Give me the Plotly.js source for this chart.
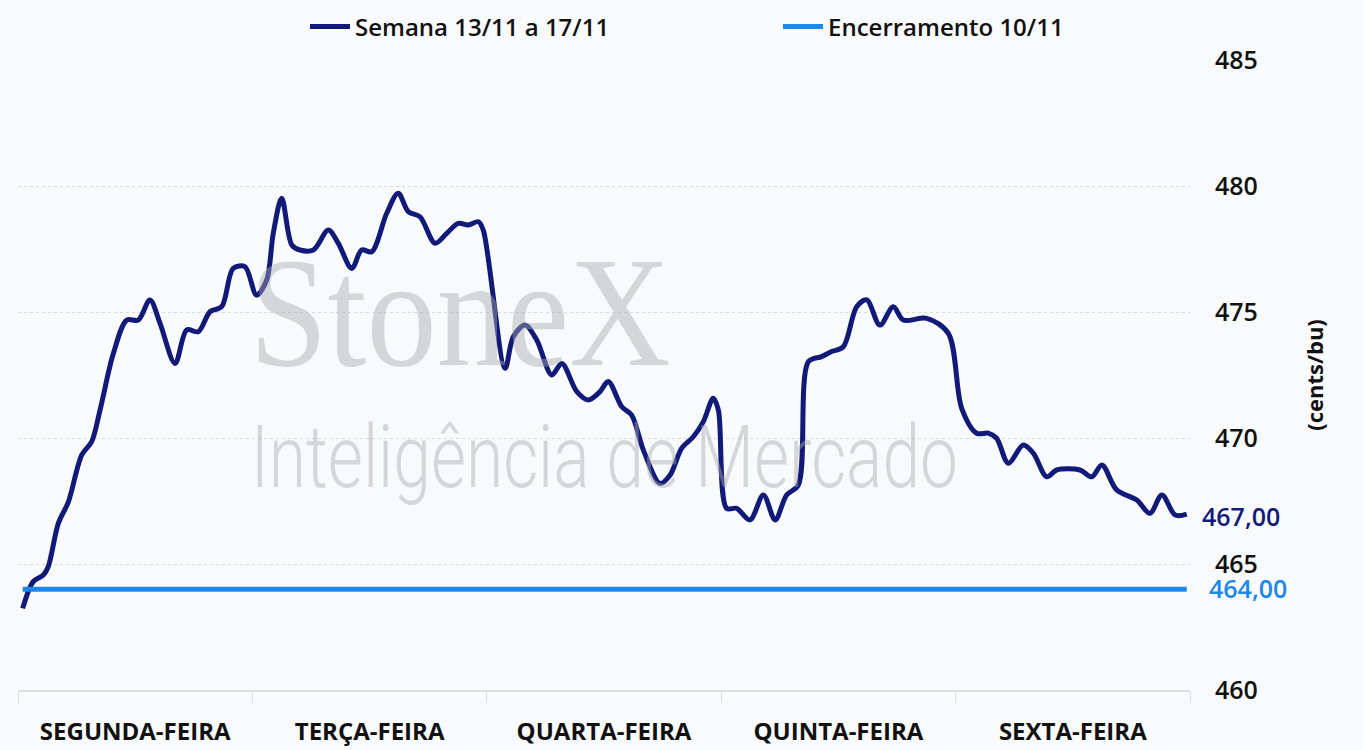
<!DOCTYPE html>
<html>
<head>
<meta charset="utf-8">
<script src="https://cdn.plot.ly/plotly-3.0.1.min.js"></script>
<style>
  html, body { margin: 0; padding: 0; background: #f9fafc; }
  #chart { width: 1363px; height: 750px; }
</style>
</head>
<body>
<div id="chart"></div>
<script>
// Day labels (x axis categories, one per trading day)
const dayLabels = ["SEGUNDA-FEIRA", "TERÇA-FEIRA", "QUARTA-FEIRA", "QUINTA-FEIRA", "SEXTA-FEIRA"];

// Intraday time position (in days from Monday open) and price (cents/bu)
const weekTime = [
  0.020, 0.065, 0.108, 0.129, 0.172, 0.215, 0.272, 0.314, 0.350, 0.407,
  0.464, 0.513, 0.563, 0.606, 0.670, 0.720, 0.769, 0.819, 0.869, 0.918,
  0.968, 1.018, 1.061, 1.089, 1.125, 1.168, 1.203, 1.260, 1.324, 1.366,
  1.424, 1.466, 1.509, 1.573, 1.622, 1.665, 1.715, 1.779, 1.829, 1.878,
  1.921, 1.964, 1.985, 2.078, 2.113, 2.163, 2.213, 2.277, 2.320, 2.384,
  2.433, 2.483, 2.518, 2.576, 2.618, 2.668, 2.739, 2.782, 2.831, 2.881,
  2.924, 2.966, 2.988, 3.023, 3.066, 3.123, 3.180, 3.230, 3.279, 3.329,
  3.372, 3.428, 3.471, 3.521, 3.578, 3.621, 3.677, 3.734, 3.777, 3.877,
  3.969, 4.026, 4.090, 4.139, 4.175, 4.225, 4.289, 4.332, 4.389, 4.431,
  4.531, 4.581, 4.624, 4.687, 4.773, 4.829, 4.880, 4.937, 4.986
];
const weekPrice = [
  463.24, 464.30, 464.56, 464.89, 466.61, 467.47, 469.33, 469.85, 471.11, 473.36,
  474.68, 474.68, 475.48, 474.55, 472.96, 474.29, 474.22, 475.01, 475.21, 476.73,
  476.80, 475.67, 476.27, 478.12, 479.51, 477.66, 477.46, 477.46, 478.25, 477.73,
  476.73, 477.46, 477.39, 478.92, 479.71, 478.98, 478.78, 477.73, 478.12, 478.52,
  478.45, 478.58, 478.25, 472.77, 474.02, 474.48, 473.89, 472.50, 472.96, 471.84,
  471.51, 471.84, 472.24, 471.24, 470.91, 469.52, 468.20, 468.53, 469.59, 470.05,
  470.65, 471.58, 471.11, 467.21, 467.21, 466.75, 467.74, 466.75, 467.74, 468.13,
  473.03, 473.23, 473.43, 473.62, 475.21, 475.48, 474.48, 475.21, 474.68, 474.75,
  474.15, 471.18, 470.19, 470.19, 469.99, 469.00, 469.72, 469.39, 468.46, 468.73,
  468.73, 468.46, 468.93, 467.94, 467.54, 467.01, 467.74, 466.94, 466.98
];

// Previous week close
const prevCloseTime = [0.02, 4.986];
const prevCloseValue = [464.00, 464.00];

const seriesNames = ["Semana 13/11 a 17/11", "Encerramento 10/11"];
const lastValueLabel = "467,00";
const prevCloseLabel = "464,00";
const yTicks = [460, 465, 470, 475, 480, 485];
const yTitle = "(cents/bu)";
const watermarkBrand = "StoneX";
const watermarkSub = "Inteligência de Mercado";

const navy = "#111a78";
const lightBlue = "#1e88ea";
const labelFont = "'Open Sans', 'Noto Sans', sans-serif";
const wmColor = "rgba(168,170,175,0.45)";

const traces = [
  {
    x: weekTime, y: weekPrice, type: "scatter", mode: "lines",
    name: seriesNames[0],
    line: { color: navy, width: 5, shape: "spline", smoothing: 0.9 },
    hoverinfo: "skip"
  },
  {
    x: prevCloseTime, y: prevCloseValue, type: "scatter", mode: "lines",
    name: seriesNames[1],
    line: { color: lightBlue, width: 5 },
    hoverinfo: "skip"
  }
];

const layout = {
  width: 1363, height: 750,
  paper_bgcolor: "#f9fafc", plot_bgcolor: "#f9fafc",
  margin: { l: 18, r: 173, t: 60, b: 60 },
  font: { family: labelFont, color: "#111111" },
  showlegend: true,
  legend: {
    orientation: "h", xref: "container", yref: "container",
    x: 305 / 1363, xanchor: "left", y: 0.994, yanchor: "top",
    font: { size: 24, color: "#111111", family: labelFont, weight: 600 },
    entrywidth: 418, itemwidth: 40, bgcolor: "rgba(0,0,0,0)"
  },
  xaxis: {
    range: [0, 5], showgrid: false, zeroline: false,
    tickmode: "array",
    tickvals: dayLabels.map((_, i) => i + 0.5),
    ticktext: dayLabels,
    ticks: "", ticklabelstandoff: 20,
    tickfont: { size: 24, color: "#111111", family: labelFont, weight: 700 },
    showline: true, linecolor: "#dcdde0", linewidth: 1.5,
    minor: { tick0: 0, dtick: 1, ticks: "outside", ticklen: 11, tickcolor: "#dcdde0", tickwidth: 1, showgrid: false }
  },
  yaxis: {
    side: "right", range: [460, 485], tickmode: "array", tickvals: yTicks,
    showgrid: true, gridcolor: "#d9dadd", gridwidth: 1, griddash: "dot",
    zeroline: false, showline: false, ticks: "",
    ticklabelstandoff: 24,
    tickfont: { size: 25, color: "#111111", family: labelFont, weight: 600 },
    title: { text: yTitle, font: { size: 22, color: "#111111", family: labelFont, weight: 700 }, standoff: 50 }
  },
  annotations: [
    {
      xref: "paper", yref: "paper", x: 0.377, y: 0.60,
      text: watermarkBrand, showarrow: false,
      font: { family: "'Liberation Serif', 'DejaVu Serif', serif", size: 156, color: wmColor },
      xanchor: "center", yanchor: "middle"
    },
    {
      xref: "paper", yref: "paper", x: 0.50, y: 0.37,
      text: watermarkSub, showarrow: false,
      font: { family: "'Roboto', sans-serif", size: 88, color: wmColor, weight: 300 },
      xanchor: "center", yanchor: "middle"
    },
    {
      xref: "paper", yref: "y", x: 1, y: weekPrice[weekPrice.length - 1],
      xanchor: "left", yanchor: "middle", xshift: 10, yshift: -2,
      text: lastValueLabel, showarrow: false,
      font: { size: 25, color: navy, family: labelFont, weight: 600 }
    },
    {
      xref: "paper", yref: "y", x: 1, y: prevCloseValue[0],
      xanchor: "left", yanchor: "middle", xshift: 17, yshift: 1,
      text: prevCloseLabel, showarrow: false,
      font: { size: 25, color: lightBlue, family: labelFont, weight: 600 }
    }
  ]
};

// horizontal condensing of the watermark texts (the original uses condensed faces)
const wmScale = { 0: 0.9, 1: 0.77 };

Plotly.newPlot("chart", traces, layout, { displayModeBar: false, staticPlot: true }).then(() => {
  Object.keys(wmScale).forEach(idx => {
    const t = document.querySelector('g.annotation[data-index="' + idx + '"] text.annotation-text');
    if (!t) return;
    const bb = t.getBBox();
    const cx = bb.x + bb.width / 2;
    t.setAttribute("transform", "translate(" + cx + ",0) scale(" + wmScale[idx] + ",1) translate(" + (-cx) + ",0)");
  });
});
</script>
</body>
</html>
